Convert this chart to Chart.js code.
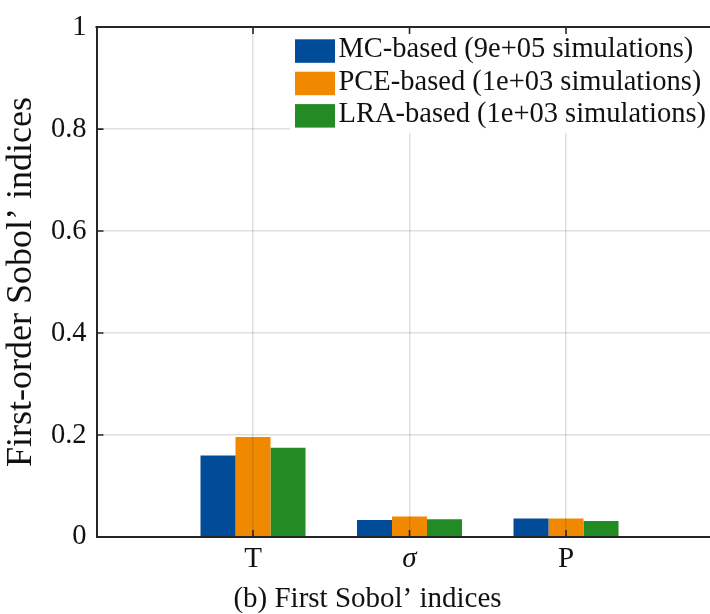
<!DOCTYPE html>
<html>
<head>
<meta charset="utf-8">
<script src="https://cdn.jsdelivr.net/npm/chart.js@4.4.1/dist/chart.umd.min.js"></script>
<style>
  html, body { margin: 0; padding: 0; background: #ffffff; }
  #wrap { width: 710px; height: 614px; position: relative; overflow: hidden; }
</style>
</head>
<body>
<div id="wrap"><canvas id="c" width="710" height="614"></canvas></div>
<script>
// ---- data ----
const categories = ['T', 'σ', 'P'];
const seriesLabels = [
  'MC-based (9e+05 simulations)',
  'PCE-based (1e+03 simulations)',
  'LRA-based (1e+03 simulations)'
];
const mcValues  = [0.160, 0.0334, 0.0365];
const pceValues = [0.196, 0.040, 0.0365];
const lraValues = [0.175, 0.0346, 0.0315];
const yTickStep = 0.2;
const yMin = 0, yMax = 1;
const yTitle = 'First-order Sobol\u2019 indices';
const caption = '(b) First Sobol\u2019 indices';

// ---- style ----
const FONT = '"Liberation Serif", "Times New Roman", serif';
const colors = ['rgb(0,76,152)', 'rgb(240,136,0)', 'rgb(35,139,35)'];
const axisColor = '#262626';
const gridColor = 'rgba(38,38,38,0.15)';
const xMaxView = 3.92;
const TITLE_SIZE = 29;
const TITLE_H = TITLE_SIZE * 1.2;

const allSeries = [mcValues, pceValues, lraValues];
const datasets = allSeries.map((vals, k) => ({
  label: seriesLabels[k],
  data: vals.map((v, i) => ({ x: i + 1, y: v })),
  backgroundColor: colors[k],
  borderWidth: 0,
  categoryPercentage: 0.671,
  barPercentage: 1.0
}));

const decorPlugin = {
  id: 'decor',
  afterLayout(chart) {
    const t = chart.titleBlock;
    if (t) { t.left = 25; t.right = chart.width; t.top += 3; t.bottom += 3; }
  },
  afterDraw(chart) {
    const ctx = chart.ctx;
    const ca = chart.chartArea;
    const xs = chart.scales.x, ys = chart.scales.y;
    ctx.save();
    // legend (inside plot, top right)
    ctx.fillStyle = '#ffffff';
    ctx.fillRect(290, 30, chart.width - 290, 103);
    chart.data.datasets.forEach((ds, i) => {
      const top = 39.3 + i * 32.4;
      ctx.fillStyle = ds.backgroundColor;
      ctx.fillRect(295, top, 40, 23.5);
      ctx.fillStyle = '#111111';
      ctx.font = '28.5px ' + FONT;
      ctx.textAlign = 'left';
      ctx.textBaseline = 'middle';
      ctx.fillText(ds.label, 338.5, top + 10.5);
    });
    // top box line
    ctx.strokeStyle = axisColor;
    ctx.lineWidth = 2;
    ctx.beginPath();
    ctx.moveTo(ca.left - 1, ca.top);
    ctx.lineTo(chart.width, ca.top);
    ctx.stroke();
    // inward tick marks
    ctx.lineWidth = 1.6;
    ctx.beginPath();
    xs.ticks.forEach(t => {
      const px = xs.getPixelForValue(t.value);
      ctx.moveTo(px, ca.bottom); ctx.lineTo(px, ca.bottom - 7);
      ctx.moveTo(px, ca.top); ctx.lineTo(px, ca.top + 7);
    });
    ys.ticks.forEach(t => {
      const py = ys.getPixelForValue(t.value);
      ctx.moveTo(ca.left, py); ctx.lineTo(ca.left + 7, py);
    });
    ctx.stroke();
    ctx.restore();
  }
};

new Chart(document.getElementById('c'), {
  type: 'bar',
  data: { datasets },
  plugins: [decorPlugin],
  options: {
    responsive: false,
    animation: false,
    devicePixelRatio: 1,
    layout: { padding: { top: 22, left: 0, right: 0, bottom: 0 } },
    plugins: {
      legend: { display: false },
      tooltip: { enabled: false },
      title: {
        display: true,
        position: 'bottom',
        text: caption,
        color: '#111111',
        font: { family: FONT, size: TITLE_SIZE, weight: 'normal', lineHeight: 1.2 },
        padding: { top: 0, bottom: 0 }
      }
    },
    scales: {
      x: {
        type: 'linear',
        min: 0,
        max: xMaxView,
        offset: false,
        afterFit: s => { s.height = 614 - 537 - TITLE_H; },
        afterBuildTicks: s => { s.ticks = categories.map((c, i) => ({ value: i + 1 })); },
        grid: { display: true, offset: false, color: gridColor, lineWidth: 1.5, drawTicks: false, z: 1 },
        border: { display: true, color: axisColor, width: 2, z: 1 },
        ticks: {
          autoSkip: false,
          maxRotation: 0,
          padding: 5,
          color: '#111111',
          font: ctx => ({
            family: FONT,
            size: 29,
            style: (ctx.tick && /[\u0370-\u03ff]/.test(categories[ctx.tick.value - 1] || '')) ? 'italic' : 'normal'
          }),
          callback: v => categories[v - 1] !== undefined ? categories[v - 1] : ''
        }
      },
      y: {
        min: yMin,
        max: yMax,
        afterFit: s => { s.width = 96.5; },
        grid: { display: true, color: gridColor, lineWidth: 1.5, drawTicks: false, z: 1 },
        border: { display: true, color: axisColor, width: 2, z: 1 },
        ticks: {
          stepSize: yTickStep,
          padding: 10,
          color: '#111111',
          font: { family: FONT, size: 28.5 },
          callback: v => String(+Number(v).toFixed(3))
        },
        title: {
          display: true,
          text: yTitle,
          color: '#111111',
          font: { family: FONT, size: 36, weight: 'normal', lineHeight: 1.2 },
          padding: { top: 0, bottom: 0 }
        }
      }
    }
  }
});
</script>
</body>
</html>
